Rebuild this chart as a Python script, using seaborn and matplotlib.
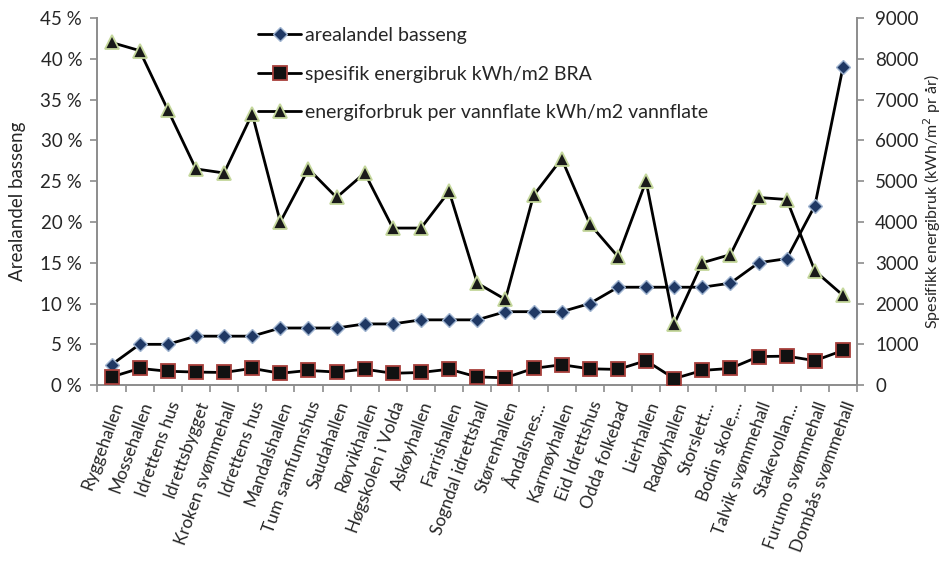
import numpy as np
import pandas as pd
import matplotlib
matplotlib.use("Agg")
import matplotlib.pyplot as plt
from matplotlib.ticker import FixedLocator, FuncFormatter
import seaborn as sns

# Anlegg, sortert etter arealandel basseng
anlegg = [
    "Ryggehallen", "Mossehallen", "Idrettens hus", "Idrettsbygget",
    "Kroken svømmehall", "Idrettens hus", "Mandalshallen", "Tum samfunnshus",
    "Saudahallen", "Rørvikhallen", "Høgskolen i Volda", "Askøyhallen",
    "Farrishallen", "Sogndal idrettshall", "Størenhallen", "Åndalsnes...",
    "Karmøyhallen", "Eid Idrettshus", "Odda folkebad", "Lierhallen",
    "Radøyhallen", "Storslett...", "Bodin skole,...", "Talvik svømmehall",
    "Stakevollan...", "Furumo svømmehall", "Dombås svømmehall",
]

# Andel av bygningsarealet som er basseng
arealandel = [
    0.025, 0.05, 0.05, 0.06, 0.06, 0.06, 0.07, 0.07, 0.07, 0.075, 0.075,
    0.08, 0.08, 0.08, 0.09, 0.09, 0.09, 0.10, 0.12, 0.12, 0.12, 0.12,
    0.125, 0.15, 0.155, 0.22, 0.39,
]

# Spesifikk energibruk, kWh/m2 BRA
spesifikk = [
    200, 410, 340, 320, 310, 410, 290, 360, 320, 390, 290, 310, 390, 200,
    180, 410, 500, 400, 385, 600, 160, 360, 410, 700, 710, 600, 850,
]

# Energiforbruk per vannflate, kWh/m2 vannflate
vannflate = [
    8400, 8200, 6750, 5300, 5200, 6650, 4000, 5300, 4600, 5200, 3850,
    3850, 4750, 2500, 2100, 4650, 5550, 3950, 3150, 5000, 1500, 3000,
    3200, 4600, 4550, 2800, 2200,
]

navn_areal = "arealandel basseng"
navn_spes = "spesifik energibruk kWh/m2 BRA"
navn_vann = "energiforbruk per vannflate kWh/m2 vannflate"

df = pd.DataFrame({
    "pos": np.arange(len(anlegg)),
    "anlegg": anlegg,
    "areal": arealandel,
    "spes": spesifikk,
    "vann": vannflate,
})

sns.set_theme(style="white")
plt.rcParams["font.family"] = ["Lato", "DejaVu Sans"]

tekst = "#262626"
grå = "#8c8c8c"

fig = plt.figure(figsize=(9.46, 5.80), dpi=100)
ax = fig.add_axes([0.103, 0.336, 0.803, 0.633])
ax2 = ax.twinx()

linje = dict(color="black", linewidth=2.0, sort=False, estimator=None)

sns.lineplot(data=df, x="pos", y="vann", ax=ax2, marker="^",
             markersize=10, markerfacecolor="#1a1a1a",
             markeredgecolor="#c4d79b", markeredgewidth=1.3,
             label=navn_vann, legend=False, **linje)
sns.lineplot(data=df, x="pos", y="spes", ax=ax2, marker="s",
             markersize=9.5, markerfacecolor="#111111",
             markeredgecolor="#a8403c", markeredgewidth=1.3,
             label=navn_spes, legend=False, **linje)
sns.lineplot(data=df, x="pos", y="areal", ax=ax, marker="D",
             markersize=7, markerfacecolor="#1f3864",
             markeredgecolor="#9fb4d0", markeredgewidth=1.0,
             label=navn_areal, legend=False, **linje)

# Begge aksene deler samme x-område
n = len(anlegg)
for a in (ax, ax2):
    a.set_xlim(-0.5, n - 0.5)
    a.grid(False)
    a.set_facecolor("none")
    a.spines["top"].set_visible(False)

ax.set_ylim(0, 0.45)
ax.yaxis.set_major_locator(FixedLocator(np.arange(0, 0.451, 0.05)))
ax.yaxis.set_major_formatter(FuncFormatter(lambda v, p: f"{v * 100:.0f} %"))
ax2.set_ylim(0, 9000)
ax2.yaxis.set_major_locator(FixedLocator(np.arange(0, 9001, 1000)))

# Kategorinavn midt i hvert felt, tikkstreker på feltgrensene
ax.set_xticks(df["pos"])
ax.set_xticklabels(anlegg, rotation=70, ha="right", va="top",
                   rotation_mode="anchor", fontsize=12.5, color=tekst)
ax.set_xticks(np.arange(-0.5, n, 1.0), minor=True)
ax.tick_params(axis="x", which="major", length=0, pad=10)
ax.tick_params(axis="x", which="minor", length=5, width=1.2, color=grå,
               direction="out", bottom=True)
ax.tick_params(axis="y", left=True, length=5, width=1.2, color=grå,
               direction="out", labelsize=13.5, labelcolor=tekst, pad=6)
ax2.tick_params(axis="y", right=True, length=5, width=1.2, color=grå,
                direction="out", labelsize=13.5, labelcolor=tekst, pad=8)
ax2.tick_params(axis="x", bottom=False, labelbottom=False)

for a in (ax, ax2):
    for side in ("left", "right", "bottom"):
        a.spines[side].set_color(grå)
        a.spines[side].set_linewidth(1.4)
ax.spines["right"].set_visible(False)
ax2.spines["left"].set_visible(False)
ax2.spines["bottom"].set_visible(False)

ax.set_xlabel("")
ax.set_ylabel("Arealandel basseng", fontsize=13.5, color=tekst, labelpad=10)
ax2.set_ylabel("Spesifikk energibruk (kWh/m$^2$ pr år)", fontsize=11.5,
               color=tekst, labelpad=2)

h1, l1 = ax.get_legend_handles_labels()
h2, l2 = ax2.get_legend_handles_labels()
handles = h1 + h2[::-1]
labels = l1 + l2[::-1]
ax2.legend(handles, labels, loc="upper left", bbox_to_anchor=(0.212, 0.975),
           frameon=False, fontsize=14, labelcolor=tekst, handlelength=2.2,
           handletextpad=0.2, labelspacing=1.1, borderaxespad=0,
           borderpad=0)

fig.savefig("out.png", dpi=100, facecolor="white")
